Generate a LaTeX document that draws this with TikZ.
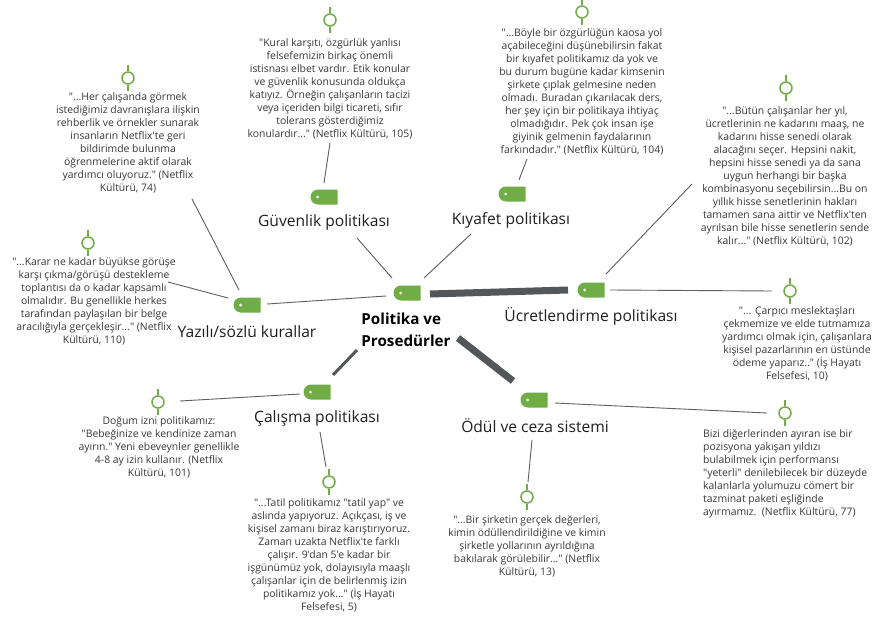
\documentclass[tikz,border=0pt]{standalone}
\usepackage{fontspec}
\setmainfont{Open Sans}[Ligatures=TeXOff]
\usetikzlibrary{shapes.misc,calc}
\definecolor{leaf}{HTML}{70AD47}
\definecolor{wire}{HTML}{5E5E5E}
\definecolor{barc}{HTML}{53575A}
\definecolor{ink}{HTML}{383838}

\begin{document}
\begin{tikzpicture}[x=1pt,y=-1pt,
  tagbox/.style={rounded rectangle, rounded rectangle right arc=none,
    fill=leaf, minimum width=27pt, minimum height=15pt, inner sep=0pt,
    path picture={\fill[white] ([xshift=7pt]path picture bounding box.west) circle (1.5pt);}},
  stem/.style={draw=leaf, line width=1.5pt},
  knob/.style={circle, draw=leaf, line width=1.5pt, fill=white,
    minimum size=12pt, inner sep=0pt,
    append after command={(\tikzlastnode.north) edge[stem] +(0pt,6pt)
                          (\tikzlastnode.south) edge[stem] +(0pt,-6pt)}},
  qtext/.style={font=\fontsize{10.4}{13}\selectfont, text=ink, align=center,
    inner sep=0pt, anchor=north},
  topic/.style={font=\fontsize{15.6}{18}\selectfont, text=black!88, inner sep=0pt},
  wireln/.style={draw=wire, line width=0.9pt},
  midbar/.style={draw=barc, line width=3pt},
  bigbar/.style={draw=barc, line width=7pt},
]
\useasboundingbox (0,0) rectangle (872,618);
\fill[white] (0,0) rectangle (872,618);

% central topic
\node[tagbox] (c) at (407,293) {};
\node[font=\bfseries\fontsize{15.2}{22}\selectfont, align=left, inner sep=0pt]
  (ctext) at (406,330) {Politika ve\\Prosedürler};

% main branches
\node[tagbox] (gvt) at (324,197) {};
\node[topic] (gvl) at (324,222) {Güvenlik politikası};
\node[tagbox] (kyt) at (512,194) {};
\node[topic] (kyl) at (511,220) {Kıyafet politikası};
\node[tagbox] (yzt) at (247,305) {};
\node[topic] (yzl) at (247,332) {Yazılı/sözlü kurallar};
\node[tagbox] (uct) at (591,290) {};
\node[topic] (ucl) at (591,316) {Ücretlendirme politikası};
\node[tagbox] (cat) at (317,392) {};
\node[topic] (cal) at (317,418) {Çalışma politikası};
\node[tagbox] (odt) at (534,400) {};
\node[topic] (odl) at (535,426) {Ödül ve ceza sistemi};

% quotation markers
\node[knob] (q1m) at (128,78) {};
\node[knob] (q2m) at (330,20) {};
\node[knob] (q3m) at (582,12) {};
\node[knob] (q4m) at (786,88) {};
\node[knob] (q5m) at (88,243) {};
\node[knob] (q6m) at (790,291) {};
\node[knob] (q7m) at (158,402) {};
\node[knob] (q8m) at (329,482) {};
\node[knob] (q9m) at (527,497) {};
\node[knob] (q10m) at (785,413) {};

% quotations
\node[qtext] (q1) at (128,92) {"...Her çalışanda görmek\\istediğimiz davranışlara ilişkin\\rehberlik ve örnekler sunarak\\insanların Netflix'te geri\\bildirimde bulunma\\öğrenmelerine aktif olarak\\yardımcı oluyoruz." (Netflix\\Kültürü, 74)};
\node[qtext] (q2) at (330,38) {"Kural karşıtı, özgürlük yanlısı\\felsefemizin birkaç önemli\\istisnası elbet vardır. Etik konular\\ve güvenlik konusunda oldukça\\katıyız. Örneğin çalışanların tacizi\\veya içeriden bilgi ticareti, sıfır\\tolerans gösterdiğimiz\\konulardır..." (Netflix Kültürü, 105)};
\node[qtext] (q3) at (582,28) {"...Böyle bir özgürlüğün kaosa yol\\açabileceğini düşünebilirsin fakat\\bir kıyafet politikamız da yok ve\\bu durum bugüne kadar kimsenin\\şirkete çıplak gelmesine neden\\olmadı. Buradan çıkarılacak ders,\\her şey için bir politikaya ihtiyaç\\olmadığıdır. Pek çok insan işe\\giyinik gelmenin faydalarının\\farkındadır." (Netflix Kültürü, 104)};
\node[qtext] (q4) at (785,106) {"...Bütün çalışanlar her yıl,\\ücretlerinin ne kadarını maaş, ne\\kadarını hisse senedi olarak\\alacağını seçer. Hepsini nakit,\\hepsini hisse senedi ya da sana\\uygun herhangi bir başka\\kombinasyonu seçebilirsin...Bu on\\yıllık hisse senetlerinin hakları\\tamamen sana aittir ve Netflix'ten\\ayrılsan bile hisse senetlerin sende\\kalır..." (Netflix Kültürü, 102)};
\node[qtext] (q5) at (94,257) {"...Karar ne kadar büyükse görüşe\\karşı çıkma/görüşü destekleme\\toplantısı da o kadar kapsamlı\\olmalıdır. Bu genellikle herkes\\tarafından paylaşılan bir belge\\aracılığıyla gerçekleşir..." (Netflix\\Kültürü, 110)};
\node[qtext] (q6) at (797,306) {"... Çarpıcı meslektaşları\\çekmemize ve elde tutmamıza\\yardımcı olmak için, çalışanlara\\kişisel pazarlarının en üstünde\\ödeme yaparız.." (İş Hayatı\\Felsefesi, 10)};
\node[qtext] (q7) at (159,416) {Doğum izni politikamız:\\"Bebeğinize ve kendinize zaman\\ayırın." Yeni ebeveynler genellikle\\4-8 ay izin kullanır. (Netflix\\Kültürü, 101)};
\node[qtext] (q8) at (329,498) {"...Tatil politikamız "tatil yap" ve\\aslında yapıyoruz. Açıkçası, iş ve\\kişisel zamanı biraz karıştırıyoruz.\\Zaman uzakta Netflix'te farklı\\çalışır. 9'dan 5'e kadar bir\\işgünümüz yok, dolayısıyla maaşlı\\çalışanlar için de belirlenmiş izin\\politikamız yok..." (İş Hayatı\\Felsefesi, 5)};
\node[qtext] (q9) at (527,515) {"...Bir şirketin gerçek değerleri,\\kimin ödüllendirildiğine ve kimin\\şirketle yollarının ayrıldığına\\bakılarak görülebilir..." (Netflix\\Kültürü, 13)};
\node[qtext, align=left, anchor=north west] (q10) at (703,429) {Bizi diğerlerinden ayıran ise bir\\pozisyona yakışan yıldızı\\bulabilmek için performansı\\"yeterli" denilebilecek bir düzeyde\\kalanlarla yolumuzu cömert bir\\tazminat paketi eşliğinde\\ayırmamız.\ \ (Netflix Kültürü, 77)};

% branches from the central topic
\draw[bigbar] ($(c)+(23,1)$) -- ($(uct)+(-23,0)$);
\draw[bigbar] ($(ctext)+(52,8)$) -- ($(odt)+(-21,-19)$);
\draw[midbar] ($(ctext)+(-49,20)$) -- ($(cat)+(16,-17)$);
\draw[wireln] ($(gvl)+(33,16)$) -- ($(c)+(-15,-15)$);
\draw[wireln] ($(kyl)+(-40,14)$) -- ($(c)+(17,-15)$);
\draw[wireln] ($(yzt)+(20,-1)$) -- ($(c)+(-21,3)$);

% sub-branches to the quotations
\draw[wireln] ($(gvt)+(0,-14)$) -- ($(q2.south)+(0,4)$);
\draw[wireln] ($(kyt)+(7,-14)$) -- ($(q3.south)+(-55,4)$);
\draw[wireln] ($(yzt)+(-8,-15)$) -- ($(q1.south)+(64,6)$);
\draw[wireln] ($(yzt)+(-19,-7)$) -- ($(q5.north)+(74,25)$);
\draw[wireln] ($(uct)+(15,-16)$) -- ($(q4.north)+(-93,78)$);
\draw[wireln] ($(uct)+(19,0)$) -- ($(q6m)+(-18,0)$);
\draw[wireln] ($(cat)+(-17,2)$) -- ($(q7m)+(22,-1)$);
\draw[wireln] ($(cal)+(3,14)$) -- ($(q8m)+(-3,-15)$);
\draw[wireln] ($(odl)+(-3,14)$) -- ($(q9m)+(1,-15)$);
\draw[wireln] ($(odt)+(21,3)$) -- ($(q10m)+(-18,0)$);
\end{tikzpicture}
\end{document}
